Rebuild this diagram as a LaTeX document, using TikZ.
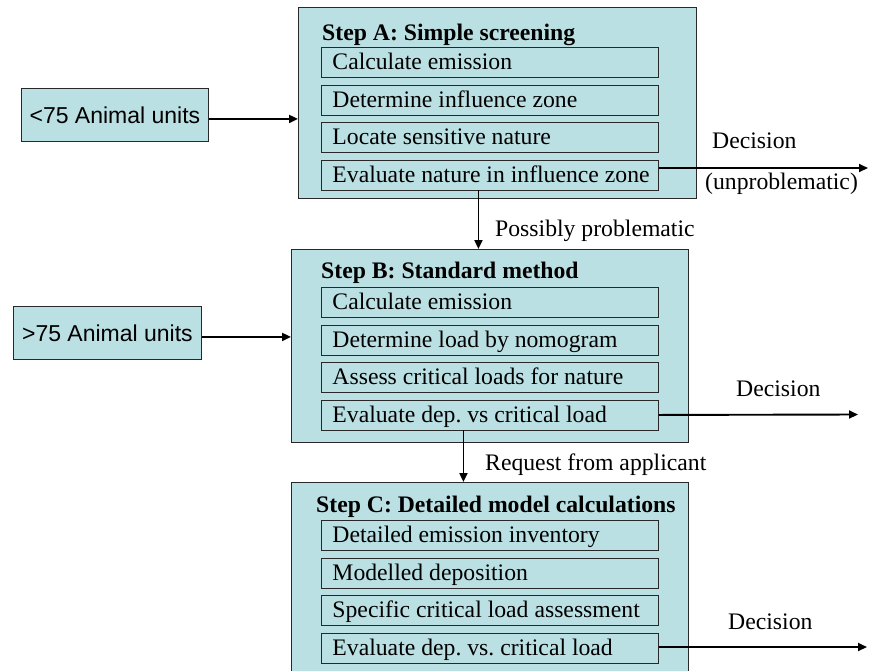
\documentclass[tikz,border=0pt]{standalone}
\usepackage{fontspec}
\setmainfont{Liberation Serif}
\newfontfamily\labelsans{Liberation Sans}
\usetikzlibrary{arrows.meta}
\definecolor{stepfill}{RGB}{187,224,227}
\definecolor{edgegray}{RGB}{40,40,40}
% one line of a step, left-aligned in a fixed-width slot
\newcommand\rowtext[1]{\makebox[315pt][l]{#1}}

\begin{document}
\begin{tikzpicture}[x=1pt,y=-1pt,
  stepframe/.style={draw=edgegray, line width=0.9pt, fill=stepfill, anchor=north west, inner sep=0pt},
  rowbox/.style={draw=edgegray, line width=0.9pt, fill=stepfill, anchor=north west,
    minimum height=30pt, minimum width=337pt, inner xsep=11pt, inner ysep=0pt,
    text height=18.5pt, text depth=3.5pt, font=\fontsize{23.7}{28}\selectfont\frenchspacing},
  head/.style={anchor=base west, inner sep=0pt, font=\fontsize{23.7}{28}\selectfont\bfseries},
  inbox/.style={draw=edgegray, line width=0.9pt, fill=stepfill, anchor=north west, inner sep=0pt,
    minimum height=53pt, font=\labelsans\fontsize{23}{27}\selectfont},
  lbl/.style={anchor=west, inner sep=0pt, font=\fontsize{23.7}{28}\selectfont},
  flow/.style={line width=1.9pt, -{Triangle[length=9pt,width=8pt]}}
]
\useasboundingbox (0,0) rectangle (870,670);
\clip (0,0) rectangle (870,670);

% Step A
\node[stepframe, minimum width=398pt, minimum height=191pt] (A) at (298,7) {};
\node[head] (Ahead) at (322,40) {Step A: Simple screening};
\node[rowbox] (a1) at (321,47)    {\rowtext{Calculate emission}};
\node[rowbox] (a2) at (321,84.5)  {\rowtext{Determine influence zone}};
\node[rowbox] (a3) at (321,122)   {\rowtext{Locate sensitive nature}};
\node[rowbox] (a4) at (321,159.5) {\rowtext{Evaluate nature in influence zone}};

% Step B
\node[stepframe, minimum width=397pt, minimum height=193pt] (B) at (291,249) {};
\node[head] (Bhead) at (321,278) {Step B: Standard method};
\node[rowbox] (b1) at (321,287)   {\rowtext{Calculate emission}};
\node[rowbox] (b2) at (321,324.5) {\rowtext{Determine load by nomogram}};
\node[rowbox] (b3) at (321,362)   {\rowtext{Assess critical loads for nature}};
\node[rowbox] (b4) at (321,399.5) {\rowtext{Evaluate dep. vs critical load}};

% Step C
\node[stepframe, minimum width=397pt, minimum height=210pt] (C) at (291,482) {};
\node[head] (Chead) at (316,512) {Step C: Detailed model calculations};
\node[rowbox] (c1) at (321,520)   {\rowtext{Detailed emission inventory}};
\node[rowbox] (c2) at (321,557.5) {\rowtext{Modelled deposition}};
\node[rowbox] (c3) at (321,595)   {\rowtext{Specific critical load assessment}};
\node[rowbox] (c4) at (321,632.5) {\rowtext{Evaluate dep. vs. critical load}};

% farm size inputs
\node[inbox, minimum width=187pt] (small) at (21,88) {<75 Animal units};
\node[inbox, minimum width=188pt] (large) at (13,306) {>75 Animal units};
\draw[flow] ([yshift=-4pt]small.east) -- ([yshift=-4pt]A.west |- small.east);
\draw[flow] ([yshift=-4pt]large.east) -- ([yshift=-4pt]B.west |- large.east);

% decisions
\coordinate (decA) at (868,168);
\coordinate (decB) at (858,414.5);
\coordinate (decC) at (867,647);
\draw[flow] (a4.east |- decA) -- (decA);
\draw[flow] (b4.east) -- (decB);
\draw[flow] (c4.east |- decC) -- (decC);
\node[lbl] (dA) at (712,141) {Decision};
\node[lbl] (uA) at (705,184) {(unproblematic)};
\node[lbl] (dB) at (736,389) {Decision};
\node[lbl] (dC) at (728,622) {Decision};

% escalation between steps
\draw[flow] ([xshift=-11.5pt]a4.south) -- ([xshift=-11.5pt]a4.south |- B.north);
\draw[flow] ([xshift=-26.5pt]b4.south) -- ([xshift=-26.5pt]b4.south |- C.north);
\node[lbl] (pp) at (495,231) {Possibly problematic};
\node[lbl] (ra) at (485,465) {Request from applicant};
\end{tikzpicture}
\end{document}
